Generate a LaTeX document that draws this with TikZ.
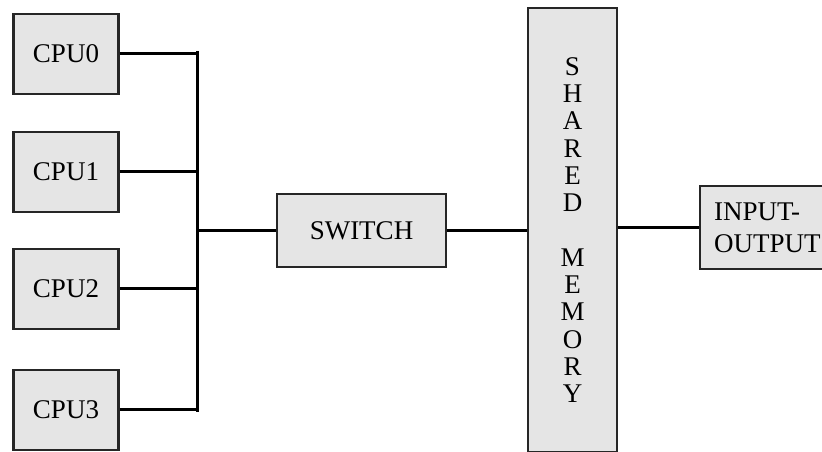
\documentclass[tikz,border=0pt]{standalone}
\usepackage{fontspec}
\setmainfont{Liberation Serif}
\usetikzlibrary{positioning, calc}
\definecolor{boxfill}{RGB}{229,229,229}

\begin{document}
\begin{tikzpicture}[
    x=1pt, y=1pt,
    unit/.style={rectangle, draw=black!85, fill=boxfill, line width=2.2pt, text centered, inner sep=0pt, font=\fontsize{27}{32}\selectfont},
    wire/.style={line width=3pt, draw=black}
]
    \useasboundingbox (0,0) rectangle (822,452);
    \clip (0,0) rectangle (822,452);

    \node (cpu0) [unit, minimum width=105pt, minimum height=80pt] at (66,398) {CPU0};
    \node (cpu1) [unit, minimum width=105pt, minimum height=80pt] at (66,280) {CPU1};
    \node (cpu2) [unit, minimum width=105pt, minimum height=80pt] at (66,163) {CPU2};
    \node (cpu3) [unit, minimum width=105pt, minimum height=80pt] at (66,42) {CPU3};

    \node (switch) [unit, minimum width=169pt, minimum height=73pt] at (361.5,221.5) {SWITCH};
    \node (mem) [unit, line width=1.6pt, minimum width=89pt, minimum height=444pt, align=center, font=\fontsize{27}{27.3}\selectfont] at (572.5,222) {S\\H\\A\\R\\E\\D\\[27.3pt]M\\E\\M\\O\\R\\Y};
    \node (io) [unit, anchor=west, minimum height=83pt, align=left, inner xsep=14pt] at (699,224.5) {INPUT-\\OUTPUT};

    \coordinate (bustop) at (197,401);
    \coordinate (busbot) at (197,40);

    \draw [wire] (bustop) -- (busbot);
    \foreach \c in {cpu0, cpu1, cpu2, cpu3}
        \draw [wire] (\c.east) -- (\c.east -| bustop);
    \draw [wire] (switch.west -| bustop) -- (switch.west);
    \draw [wire] (switch.east) -- (switch.east -| mem.west);
    \draw [wire] (mem.east |- io.west) -- (io.west);
\end{tikzpicture}
\end{document}
